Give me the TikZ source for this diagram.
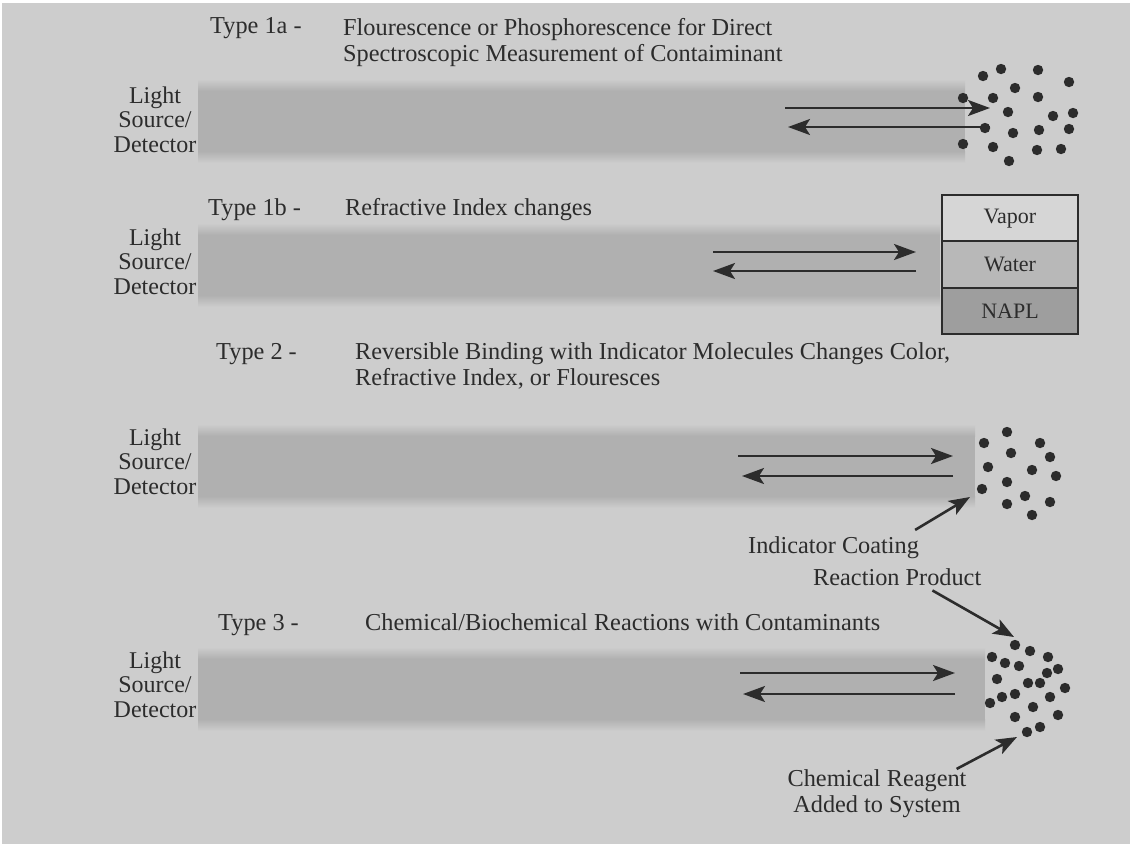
\documentclass[tikz,border=0pt]{standalone}
\usepackage{fontspec}
\setmainfont{Liberation Serif}
\usetikzlibrary{arrows.meta}
\definecolor{bg}{RGB}{205,205,205}
\definecolor{bandc}{RGB}{176,176,176}
\definecolor{ink}{RGB}{44,44,44}
\definecolor{vap}{RGB}{214,214,214}
\definecolor{wat}{RGB}{184,184,184}
\definecolor{napl}{RGB}{158,158,158}
\begin{document}
\begin{tikzpicture}[x=1pt,y=-1pt,
  txt/.style={inner sep=0pt, text=ink, font=\fontsize{24.3}{26}\selectfont},
  lsd/.style={txt, align=center, anchor=base, font=\fontsize{24}{24.5}\selectfont},
  beam/.style={draw=ink, line width=2.4pt, -{Stealth[length=22pt,width=16pt,inset=5pt]}},
  pointer/.style={draw=ink, line width=2.6pt, -{Stealth[length=21pt,width=16pt,inset=5pt]}},
  layer/.style={draw=ink, line width=2pt, minimum width=136pt, minimum height=46.3pt,
    inner sep=0pt, text=ink, font=\fontsize{22}{24}\selectfont},
  dotc/.style={fill=ink}
]
% canvas
\useasboundingbox (0,0) rectangle (1130,844);
\fill[white] (0,0) rectangle (1130,844);
\fill[bg] (2,3) rectangle (1130,844);

% optical fibres: soft-edged grey bands
\foreach \yc/\xe in {121/965, 265/940, 466/975, 689/985}{
  \shade[top color=bg, bottom color=bandc] (198,\yc-42) rectangle (\xe,\yc-30);
  \fill[bandc] (198,\yc-30) rectangle (\xe,\yc+30);
  \shade[top color=bandc, bottom color=bg] (198,\yc+30) rectangle (\xe,\yc+42);
}

% ---------- Type 1a ----------
% (multi-line nodes are anchored on the baseline of their last line)
\node[txt, anchor=base west] (t1a) at (210,33) {Type 1a -};
\node[txt, anchor=base west, align=left] (d1a) at (343,61)
  {Flourescence or Phosphorescence for Direct\\Spectroscopic Measurement of Contaiminant};
\node[lsd] (l1) at (155,152) {Light\\Source/\\Detector};
\coordinate (f1s) at (785,108);  \coordinate (f1e) at (990,108);
\coordinate (b1s) at (990,127);  \coordinate (b1e) at (788,127);
\draw[beam] (f1s) -- (f1e);
\draw[beam] (b1s) -- (b1e);
\foreach \p in {(1001,69),(1038,70),(983,76),(1069,82),(1015,88),(963,98),(993,98),
  (1038,97),(1008,112),(1053,116),(1073,113),(985,128),(1013,133),(1039,130),
  (1069,129),(963,144),(993,147),(1037,150),(1061,149),(1009,161)}
  \fill[dotc] \p circle (5.2pt);

% ---------- Type 1b ----------
\node[txt, anchor=base west] (t1b) at (208,215) {Type 1b -};
\node[txt, anchor=base west] (d1b) at (345,215) {Refractive Index changes};
\node[lsd] (l2) at (155,294) {Light\\Source/\\Detector};
\coordinate (f2s) at (713,252);  \coordinate (f2e) at (916,252);
\coordinate (b2s) at (916,271);  \coordinate (b2e) at (713,271);
\draw[beam] (f2s) -- (f2e);
\draw[beam] (b2s) -- (b2e);
\node[layer, fill=vap]  (vapor) at (1010,218.2) {Vapor};
\node[layer, fill=wat]  (water) at (1010,264.5) {Water};
\node[layer, fill=napl] (napl)  at (1010,310.8) {NAPL};

% ---------- Type 2 ----------
\node[txt, anchor=base west] (t2) at (216,359) {Type 2 -};
\node[txt, anchor=base west, align=left] (d2) at (355,385)
  {Reversible Binding with Indicator Molecules Changes Color,\\Refractive Index, or Flouresces};
\node[lsd] (l3) at (155,494) {Light\\Source/\\Detector};
\coordinate (f3s) at (738,456);  \coordinate (f3e) at (953,456);
\coordinate (b3s) at (953,476);  \coordinate (b3e) at (742,476);
\draw[beam] (f3s) -- (f3e);
\draw[beam] (b3s) -- (b3e);
\foreach \p in {(1007,432),(984,443),(1040,443),(1011,453),(1050,457),(988,467),
  (1032,470),(1056,476),(1007,482),(982,489),(1025,496),(1050,502),(1007,504),(1032,515)}
  \fill[dotc] \p circle (5.2pt);
\node[txt, anchor=base west] (coat) at (748,553) {Indicator Coating};
\coordinate (coattip) at (970,497);
\draw[pointer] ([shift={(-4,-6)}]coat.north east) -- (coattip);

% ---------- Type 3 ----------
\node[txt, anchor=base west] (prod) at (813,585) {Reaction Product};
\node[txt, anchor=base west] (t3) at (218,630) {Type 3 -};
\node[txt, anchor=base west] (d3) at (365,630) {Chemical/Biochemical Reactions with Contaminants};
\node[lsd] (l4) at (155,717) {Light\\Source/\\Detector};
\coordinate (f4s) at (740,673);  \coordinate (f4e) at (955,673);
\coordinate (b4s) at (955,694);  \coordinate (b4e) at (743,694);
\draw[beam] (f4s) -- (f4e);
\draw[beam] (b4s) -- (b4e);
\foreach \p in {(1015,645),(1030,651),(992,657),(1048,657),(1005,663),(1019,666),
  (1058,669),(1047,673),(997,679),(1028,683),(1040,683),(1065,688),(1015,694),
  (1002,697),(1050,697),(990,703),(1033,707),(1058,715),(1015,717),(1040,727),(1027,732)}
  \fill[dotc] \p circle (5.2pt);
\coordinate (prodtip) at (1014,637);
\draw[pointer] ([shift={(-49,5)}]prod.south east) -- (prodtip);
\node[txt, anchor=base, align=center] (reag) at (877,812)
  {Chemical Reagent\\Added to System};
\coordinate (reagtip) at (1017,737);
\draw[pointer] ([shift={(-10,0)}]reag.north east) -- (reagtip);
\end{tikzpicture}
\end{document}
